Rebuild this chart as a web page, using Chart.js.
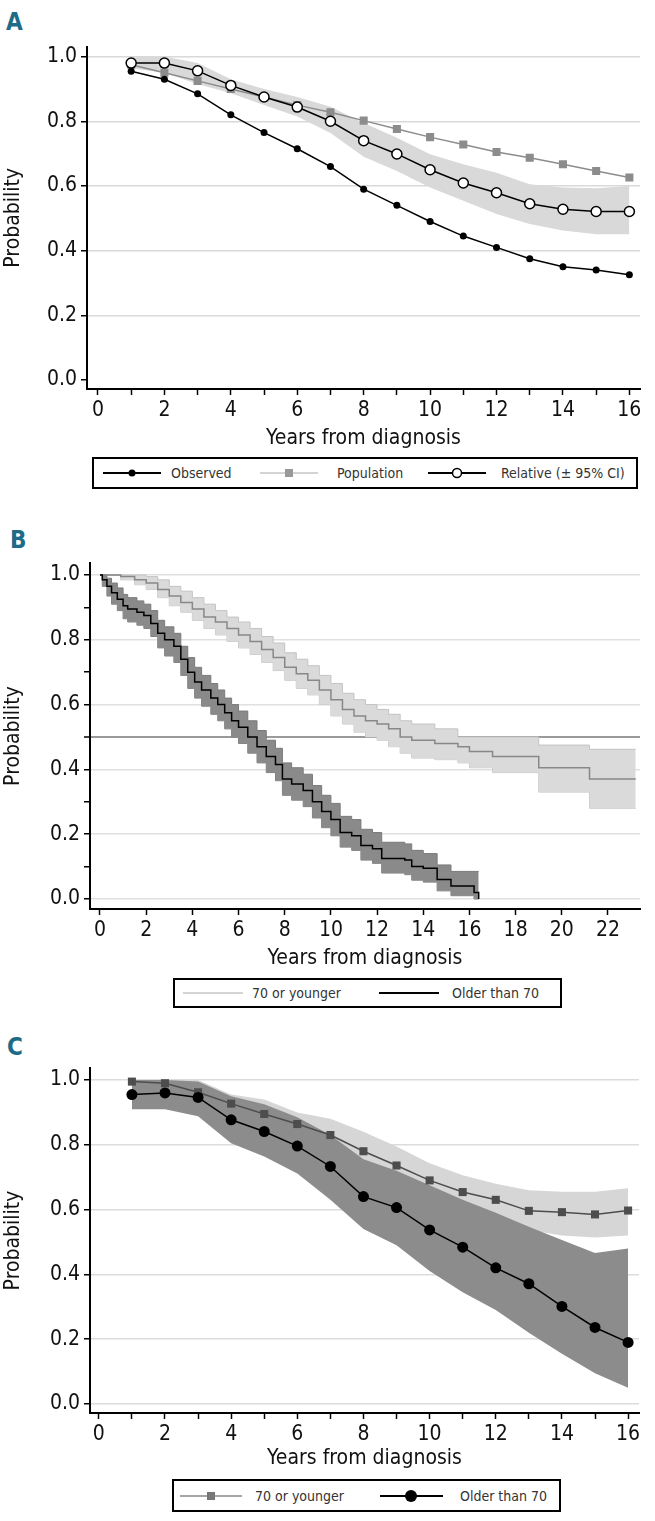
<!DOCTYPE html>
<html lang="en">
<head>
  <meta charset="UTF-8" />
  <title>Survival by age</title>
  <script src="https://cdn.jsdelivr.net/npm/chart.js@4.4.1/dist/chart.umd.min.js"></script>
  <style>
    body { margin: 0; background: #fff; }
    #page { position: relative; width: 655px; height: 1521px;
            font-family: 'DejaVu Sans Condensed', 'Liberation Sans Narrow', sans-serif; }
    .panel { position: absolute; left: 0; }
    .tag { position: absolute; font-weight: bold; font-size: 24px; line-height: 1; color: #1d6b88; }
    .legend { position: absolute; border: 2px solid #000; box-sizing: border-box; background: #fff; }
    .legend svg { position: absolute; top: 50%; transform: translateY(-50%); overflow: visible; }
    .legend span { position: absolute; top: 0; bottom: 0; display: flex; align-items: center;
                   font-size: 14px; color: #333; white-space: nowrap; }
  </style>
</head>
<body>
<div id="page">
  <div class="tag" style="left:6px;top:10px">A</div>
  <canvas id="chartA" class="panel" style="top:30px" width="655" height="420"></canvas>
  <div class="legend" style="left:92px;top:457px;width:546px;height:32px">
    <svg style="left:9px" width="58" height="16"><line x1="0" y1="8" x2="58" y2="8" stroke="#000" stroke-width="2"/><circle cx="29" cy="8" r="3.5" fill="#000"/></svg>
    <span style="left:77px">Observed</span>
    <svg style="left:166px" width="58" height="16"><line x1="0" y1="8" x2="58" y2="8" stroke="#aaa" stroke-width="1.2"/><rect x="25" y="4" width="8" height="8" fill="#999"/></svg>
    <span style="left:243px">Population</span>
    <svg style="left:334px" width="58" height="16"><line x1="0" y1="8" x2="58" y2="8" stroke="#000" stroke-width="2"/><circle cx="29" cy="8" r="4.5" fill="#fff" stroke="#000" stroke-width="1.5"/></svg>
    <span style="left:407px">Relative (± 95% CI)</span>
  </div>

  <div class="tag" style="left:10px;top:528px">B</div>
  <canvas id="chartB" class="panel" style="top:545px" width="655" height="425"></canvas>
  <div class="legend" style="left:173px;top:978px;width:389px;height:30px">
    <svg style="left:8px" width="60" height="16"><line x1="0" y1="8" x2="60" y2="8" stroke="#aaa" stroke-width="1.2"/></svg>
    <span style="left:77px">70 or younger</span>
    <svg style="left:204px" width="60" height="16"><line x1="0" y1="8" x2="60" y2="8" stroke="#000" stroke-width="2"/></svg>
    <span style="left:277px">Older than 70</span>
  </div>

  <div class="tag" style="left:7px;top:1035px">C</div>
  <canvas id="chartC" class="panel" style="top:1050px" width="655" height="420"></canvas>
  <div class="legend" style="left:172px;top:1479px;width:389px;height:33px">
    <svg style="left:6px" width="62" height="16"><line x1="0" y1="8" x2="62" y2="8" stroke="#888" stroke-width="1.5"/><rect x="27" y="4" width="8" height="8" fill="#777"/></svg>
    <span style="left:81px">70 or younger</span>
    <svg style="left:206px" width="63" height="16"><line x1="0" y1="8" x2="63" y2="8" stroke="#000" stroke-width="2"/><circle cx="31" cy="8" r="6" fill="#000"/></svg>
    <span style="left:286px">Older than 70</span>
  </div>
</div>

<script>
  // ---------- panel A: observed / population / relative survival ----------
  const yearsA = [1, 2, 3, 4, 5, 6, 7, 8, 9, 10, 11, 12, 13, 14, 15, 16];
  const observedA = [0.955, 0.93, 0.885, 0.82, 0.765, 0.715, 0.66, 0.59, 0.54, 0.49, 0.445, 0.41, 0.375, 0.35, 0.34, 0.325];
  const populationA = [0.975, 0.95, 0.925, 0.9, 0.875, 0.85, 0.828, 0.802, 0.776, 0.751, 0.728, 0.705, 0.687, 0.667, 0.646, 0.626];
  const relativeA = [0.98, 0.98, 0.956, 0.911, 0.875, 0.844, 0.8, 0.74, 0.699, 0.65, 0.609, 0.579, 0.545, 0.528, 0.521, 0.521];
  const relativeHiA = [1.0, 1.0, 0.98, 0.93, 0.9, 0.875, 0.845, 0.795, 0.749, 0.698, 0.667, 0.641, 0.605, 0.595, 0.593, 0.6];
  const relativeLoA = [0.964, 0.95, 0.915, 0.887, 0.85, 0.815, 0.764, 0.69, 0.646, 0.595, 0.554, 0.513, 0.482, 0.462, 0.451, 0.451];

  // ---------- panel B: Kaplan-Meier by age group ----------
  const youngTimeB = [0, 0.9, 1.5, 2.0, 2.5, 3.0, 3.5, 4.0, 4.5, 5.0, 5.5, 6.0, 6.5, 7.0, 7.5, 8.0, 8.5, 9.0, 9.5, 10.0,
                      10.5, 11.0, 11.5, 12.0, 12.5, 13.0, 13.5, 14.5, 15.5, 16.0, 17.0, 19.0, 21.2, 23.2];
  const youngSurvB = [1.0, 0.995, 0.985, 0.975, 0.955, 0.935, 0.915, 0.895, 0.87, 0.855, 0.835, 0.815, 0.795, 0.77, 0.745, 0.715, 0.695, 0.675, 0.645, 0.615,
                      0.585, 0.565, 0.55, 0.54, 0.525, 0.5, 0.49, 0.48, 0.47, 0.455, 0.44, 0.405, 0.37, 0.37];
  const youngHiB = [1.0, 1.0, 1.0, 0.995, 0.985, 0.965, 0.95, 0.93, 0.91, 0.89, 0.87, 0.855, 0.835, 0.81, 0.79, 0.76, 0.74, 0.72, 0.69, 0.665,
                    0.635, 0.615, 0.6, 0.585, 0.57, 0.55, 0.54, 0.525, 0.5, 0.5, 0.5, 0.475, 0.462, 0.462];
  const youngLoB = [1.0, 0.985, 0.97, 0.955, 0.93, 0.905, 0.885, 0.86, 0.835, 0.815, 0.795, 0.775, 0.755, 0.73, 0.705, 0.675, 0.65, 0.63, 0.6, 0.565,
                    0.54, 0.515, 0.5, 0.49, 0.47, 0.45, 0.435, 0.43, 0.42, 0.405, 0.39, 0.33, 0.28, 0.28];

  const oldTimeB = [0, 0.1, 0.3, 0.5, 0.75, 1.0, 1.2, 1.6, 1.9, 2.2, 2.5, 2.8, 3.2, 3.5, 3.8, 4.1, 4.4, 4.8, 5.1, 5.4,
                    5.7, 6.0, 6.4, 6.8, 7.2, 7.6, 7.9, 8.3, 8.8, 9.2, 9.6, 10.0, 10.4, 10.9, 11.3, 11.8, 12.2, 13.2, 13.5, 14.0,
                    14.6, 15.2, 16.2, 16.4];
  const oldSurvB = [1.0, 0.985, 0.965, 0.945, 0.925, 0.905, 0.895, 0.885, 0.875, 0.85, 0.82, 0.8, 0.78, 0.74, 0.7, 0.67, 0.645, 0.62, 0.6, 0.575,
                    0.55, 0.53, 0.5, 0.47, 0.44, 0.415, 0.37, 0.355, 0.335, 0.3, 0.27, 0.245, 0.205, 0.195, 0.165, 0.155, 0.125, 0.12, 0.1, 0.095,
                    0.06, 0.04, 0.02, 0.0];
  const oldHiB = [1.0, 1.0, 0.99, 0.975, 0.96, 0.94, 0.93, 0.92, 0.91, 0.89, 0.86, 0.84, 0.82, 0.78, 0.745, 0.715, 0.69, 0.665, 0.645, 0.62,
                  0.6, 0.58, 0.55, 0.52, 0.49, 0.465, 0.42, 0.405, 0.385, 0.35, 0.32, 0.295, 0.255, 0.245, 0.215, 0.205, 0.175, 0.17, 0.15, 0.14,
                  0.105, 0.085, 0.085, 0.085];
  const oldLoB = [1.0, 0.965, 0.935, 0.91, 0.89, 0.865, 0.855, 0.845, 0.835, 0.81, 0.775, 0.75, 0.73, 0.69, 0.65, 0.62, 0.595, 0.57, 0.55, 0.525,
                  0.5, 0.48, 0.45, 0.42, 0.39, 0.365, 0.32, 0.305, 0.285, 0.25, 0.22, 0.195, 0.16, 0.15, 0.12, 0.11, 0.08, 0.075, 0.058, 0.052,
                  0.025, 0.01, 0.0, 0.0];

  // ---------- panel C: relative survival by age group ----------
  const yearsC = [1, 2, 3, 4, 5, 6, 7, 8, 9, 10, 11, 12, 13, 14, 15, 16];
  const youngC = [0.995, 0.99, 0.962, 0.927, 0.895, 0.864, 0.83, 0.78, 0.736, 0.69, 0.654, 0.63, 0.596, 0.592, 0.585, 0.597];
  const youngHiC = [1.0, 1.0, 1.0, 0.955, 0.94, 0.9, 0.88, 0.84, 0.795, 0.743, 0.706, 0.68, 0.66, 0.655, 0.655, 0.666];
  const youngLoC = [0.97, 0.965, 0.925, 0.89, 0.855, 0.82, 0.78, 0.72, 0.675, 0.63, 0.59, 0.56, 0.537, 0.52, 0.514, 0.52];
  const oldC = [0.955, 0.96, 0.946, 0.877, 0.841, 0.796, 0.733, 0.64, 0.606, 0.537, 0.484, 0.42, 0.371, 0.301, 0.236, 0.19];
  const oldHiC = [1.0, 1.0, 0.995, 0.95, 0.925, 0.885, 0.83, 0.755, 0.72, 0.675, 0.63, 0.59, 0.547, 0.506, 0.466, 0.48];
  const oldLoC = [0.91, 0.91, 0.888, 0.805, 0.764, 0.711, 0.63, 0.54, 0.49, 0.41, 0.345, 0.29, 0.22, 0.155, 0.095, 0.05];

  // ---------- ticks ----------
  const yearTicks16 = [0, 1, 2, 3, 4, 5, 6, 7, 8, 9, 10, 11, 12, 13, 14, 15, 16];
  const yearTicks22 = [0, 2, 4, 6, 8, 10, 12, 14, 16, 18, 20, 22];
  const probTicks = [0, 0.2, 0.4, 0.6, 0.8, 1.0];
  const probTicksFine = [0, 0.1, 0.2, 0.3, 0.4, 0.5, 0.6, 0.7, 0.8, 0.9, 1.0];

  const FONT = "'DejaVu Sans Condensed', 'Liberation Sans Narrow', sans-serif";

  const pts = (xs, ys) => xs.map((x, i) => ({ x: x, y: ys[i] }));
  const isEvenTenth = v => Math.round(v * 10) % 2 === 0;

  function scales(o) {
    return {
      x: {
        type: "linear", min: o.xMin, max: o.xMax,
        afterBuildTicks: s => { s.ticks = o.xTicks.map(v => ({ value: v })); },
        afterFit: s => { s.height = o.xHeight; },
        ticks: {
          autoSkip: false, maxRotation: 0, padding: 3, color: "#111",
          font: { family: FONT, size: 21 },
          callback: v => (v % 2 === 0 ? String(v) : "")
        },
        grid: { drawOnChartArea: false, tickLength: 6, tickColor: "#000", tickWidth: 1.5 },
        border: { color: "#000", width: 2 },
        title: {
          display: true, text: "Years from diagnosis", color: "#111",
          font: { family: FONT, size: 21, lineHeight: 1 }, padding: { top: 0, bottom: 1 }
        }
      },
      y: {
        min: o.yMin, max: o.yMax,
        afterBuildTicks: s => { s.ticks = o.yTicks.map(v => ({ value: v })); },
        afterFit: s => { s.width = o.yWidth; },
        ticks: {
          autoSkip: false, padding: 4, color: "#111",
          font: { family: FONT, size: 21 },
          callback: v => (isEvenTenth(v) ? v.toFixed(1) : "")
        },
        grid: {
          color: o.gridColor, lineWidth: o.gridWidth || 1.5,
          tickLength: 6, tickColor: "#000", tickWidth: 1.5
        },
        border: { color: "#000", width: 2 },
        title: {
          display: true, text: "Probability", color: "#111",
          font: { family: FONT, size: 21, lineHeight: 1 }, padding: { top: 3, bottom: 0 }
        }
      }
    };
  }

  function baseOptions(o, padTop, padRight) {
    return {
      responsive: false,
      animation: false,
      devicePixelRatio: 1,
      layout: { padding: { top: padTop, right: padRight, left: 0, bottom: 0 } },
      elements: { line: { tension: 0 } },
      plugins: { legend: { display: false }, tooltip: { enabled: false } },
      scales: scales(o)
    };
  }

  const band = (data, color, extra) => Object.assign({
    data: data, borderWidth: 0, pointRadius: 0, fill: false, backgroundColor: color
  }, extra || {});

  // A
  new Chart(document.getElementById("chartA"), {
    type: "line",
    data: {
      datasets: [
        { data: pts(yearsA, relativeA), borderColor: "#000", borderWidth: 1.5, pointRadius: 5,
          pointBackgroundColor: "#fff", pointBorderColor: "#000", pointBorderWidth: 1.5 },
        { data: pts(yearsA, observedA), borderColor: "#000", borderWidth: 1.5, pointRadius: 3.5,
          pointBackgroundColor: "#000", pointBorderWidth: 0 },
        { data: pts(yearsA, populationA), borderColor: "#8c8c8c", borderWidth: 1.5, pointStyle: "rect",
          pointRadius: 5.7, pointBackgroundColor: "#8c8c8c", pointBorderWidth: 0 },
        band(pts(yearsA, relativeHiA), "#d9d9d9", { fill: "+1" }),
        band(pts(yearsA, relativeLoA), "#d9d9d9")
      ]
    },
    options: baseOptions({
      xMin: -0.33, xMax: 16.32, xTicks: yearTicks16, xHeight: 61,
      yMin: -0.028, yMax: 1.031, yTicks: probTicks, yWidth: 87,
      gridColor: c => (c.tick && c.tick.value === 0 ? "rgba(0,0,0,0)" : "#d9d9d9")
    }, 15, 15)
  });

  // B
  const optsB = baseOptions({
    xMin: -0.433, xMax: 23.386, xTicks: yearTicks22, xHeight: 61,
    yMin: -0.031, yMax: 1.037, yTicks: probTicksFine, yWidth: 90,
    gridColor: c => {
      const v = c.tick ? c.tick.value : 0;
      if (Math.abs(v - 0.5) < 1e-6) return "#9a9a9a";
      return isEvenTenth(v) ? "#e0e0e0" : "rgba(0,0,0,0)";
    },
    gridWidth: c => (c.tick && Math.abs(c.tick.value - 0.5) < 1e-6 ? 2 : 1.5)
  }, 18, 15);
  optsB.elements.line.stepped = true;

  new Chart(document.getElementById("chartB"), {
    type: "line",
    data: {
      datasets: [
        { data: pts(oldTimeB, oldSurvB), borderColor: "#000", borderWidth: 1.5, pointRadius: 0 },
        { data: pts(youngTimeB, youngSurvB), borderColor: "#888", borderWidth: 1.5, pointRadius: 0 },
        band(pts(oldTimeB, oldHiB), "#8a8a8a", { fill: "+1", borderColor: "#7a7a7a", borderWidth: 1 }),
        band(pts(oldTimeB, oldLoB), "#8a8a8a", { borderColor: "#7a7a7a", borderWidth: 1 }),
        band(pts(youngTimeB, youngHiB), "#dadada", { fill: "+1", borderColor: "#c4c4c4", borderWidth: 1 }),
        band(pts(youngTimeB, youngLoB), "#dadada", { borderColor: "#c4c4c4", borderWidth: 1 })
      ]
    },
    options: optsB
  });

  // C
  new Chart(document.getElementById("chartC"), {
    type: "line",
    data: {
      datasets: [
        { data: pts(yearsC, oldC), borderColor: "#000", borderWidth: 1.5, pointRadius: 5.5,
          pointBackgroundColor: "#000", pointBorderWidth: 0 },
        { data: pts(yearsC, youngC), borderColor: "#4d4d4d", borderWidth: 1.5, pointStyle: "rect",
          pointRadius: 5.7, pointBackgroundColor: "#4d4d4d", pointBorderWidth: 0 },
        band(pts(yearsC, oldHiC), "#8c8c8c", { fill: "+1" }),
        band(pts(yearsC, oldLoC), "#8c8c8c"),
        band(pts(yearsC, youngHiC), "#d6d6d6", { fill: "+1" }),
        band(pts(yearsC, youngLoC), "#d6d6d6")
      ]
    },
    options: baseOptions({
      xMin: -0.267, xMax: 16.33, xTicks: yearTicks16, xHeight: 57,
      yMin: -0.028, yMax: 1.037, yTicks: probTicks, yWidth: 90,
      gridColor: "#dcdcdc"
    }, 18, 16)
  });
</script>
</body>
</html>
